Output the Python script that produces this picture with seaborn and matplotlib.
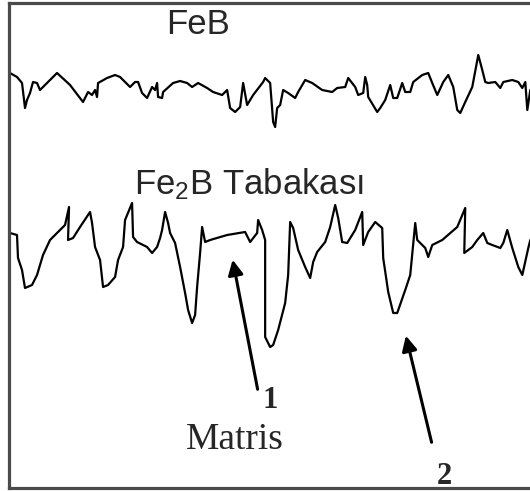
import matplotlib
matplotlib.use("Agg")
import matplotlib.pyplot as plt
import seaborn as sns
import pandas as pd

# Profile traces (horizontal position, vertical position in drawing units; y grows downward)
feb_x = [10, 17, 22, 25, 27, 30, 33, 37, 40, 45, 57, 70, 83, 88, 92, 95, 97, 98, 107, 115, 120,
         130, 135, 138, 142, 147, 152, 155, 157, 158, 162, 163, 173, 180, 187, 192, 198, 207, 213,
         222, 227, 230, 235, 240, 243, 247, 253, 263,
         265, 270, 273, 275, 277, 280, 283, 288, 295, 298, 305, 312, 322, 332, 337, 345, 348, 355,
         358, 363, 365, 367, 368, 377, 380, 385, 390, 393, 397, 402, 405, 410, 413, 422, 428, 432,
         437, 443, 448, 453, 457, 460, 465, 472, 478, 482, 485, 488, 495, 500, 503, 512, 518, 522,
         525, 527, 530]
feb_y = [73, 77, 83, 108, 100, 93, 82, 83, 90, 85, 73, 85, 102, 92, 95, 90, 97, 83, 78, 75, 77,
         87, 82, 82, 93, 98, 87, 90, 83, 97, 98, 92, 83, 81, 83, 87, 83, 88, 92,
         95, 90, 108, 112, 107, 83, 105, 95, 82,
         78, 83, 122, 127, 108, 105, 90, 93, 98, 92, 80, 83, 90, 92, 88, 87, 78, 87,
         95, 93, 77, 85, 97, 112, 108, 100, 85, 98, 98, 83, 92, 92, 82, 75, 73, 83,
         95, 82, 75, 87, 110, 113, 102, 87, 55, 70, 82, 83, 82, 88, 82, 80, 82, 88,
         82, 110, 90]

fe2b_x = [10, 17, 18, 22, 25, 32, 37, 43, 50, 58, 65, 69, 68, 73, 80, 90, 92, 95, 100, 103, 108,
          115, 118, 123, 125, 132, 133, 137, 147, 152, 157, 160, 162, 165, 168, 170, 175, 180, 185,
          188, 192, 195, 197, 200, 202, 205, 210, 227, 245, 250, 257, 258, 262,
          265, 265, 270, 273, 278, 285, 288, 290, 293, 298, 305, 310, 313, 317, 325, 330, 335, 338,
          342, 347, 355, 362, 363, 368, 375, 382, 383, 388, 393, 397, 405, 410, 415, 417, 425, 428,
          432, 442, 457, 465, 464, 472, 477, 483, 487, 492, 500, 503, 507, 512, 518, 522, 528, 530]
fe2b_y = [233, 235, 258, 270, 288, 285, 275, 255, 240, 232, 225, 207, 240, 238, 227, 212, 223, 247,
          260, 287, 285, 277, 260, 247, 220, 203, 237, 242, 247, 253, 247, 238, 230, 212, 223, 233,
          243, 267, 293, 310, 323, 315, 287, 253, 227, 242, 240, 235, 232, 242, 233, 220, 230,
          240, 337, 347, 345, 330, 303, 275, 222, 228, 250, 267, 278, 262, 252, 242, 227, 205, 218,
          242, 243, 230, 212, 245, 232, 222, 228, 258, 292, 313, 313, 290, 275, 223, 240, 248, 257,
          245, 240, 227, 208, 253, 247, 240, 233, 243, 245, 248, 243, 230, 248, 267, 275, 248, 240]

title_top = "FeB"
title_bottom = "Fe$_2$B Tabakas\u0131"
label_matrix = "Matris"
marker_labels = ["1", "2"]

W, H = 530, 491
fig = plt.figure(figsize=(W / 100, H / 100), dpi=100)
sns.set_style("white")
plt.rcParams["mathtext.fontset"] = "custom"
plt.rcParams["mathtext.rm"] = "Liberation Sans"
plt.rcParams["mathtext.it"] = "Liberation Sans"
plt.rcParams["mathtext.default"] = "regular"

ax = fig.add_axes([9 / W, 3 / H, 1 - 9 / W + 0.01, (488 - 3) / H])
ax.set_xlim(9, 535)
ax.set_ylim(488, 3)

df1 = pd.DataFrame({"x": feb_x, "y": feb_y})
df2 = pd.DataFrame({"x": fe2b_x, "y": fe2b_y})
sns.lineplot(data=df1, x="x", y="y", sort=False, estimator=None, color="black", lw=1.6, ax=ax)
sns.lineplot(data=df2, x="x", y="y", sort=False, estimator=None, color="black", lw=1.6, ax=ax)

ax.set_xlabel("")
ax.set_ylabel("")
ax.set_xticks([])
ax.set_yticks([])
for s in ["left", "top", "bottom"]:
    ax.spines[s].set_visible(True)
    ax.spines[s].set_color("#4a4a4a")
    ax.spines[s].set_linewidth(2.3)
ax.spines["right"].set_visible(False)

sans = ["Liberation Sans", "DejaVu Sans"]
serif = ["Liberation Serif", "DejaVu Serif"]
ax.text(198, 25, title_top, fontsize=25, family=sans, ha="center", va="center")
ax.text(249, 184, title_bottom, fontsize=25, family=sans, ha="center", va="center")
ax.text(235, 440, label_matrix, fontsize=27, family=serif, ha="center", va="center")
ax.text(270, 401, marker_labels[0], fontsize=22, family=serif, weight="bold", ha="center", va="center")
ax.text(444, 476, marker_labels[1], fontsize=22, family=serif, weight="bold", ha="center", va="center")

arrow = dict(arrowstyle="-|>,head_length=0.9,head_width=0.45", color="black", lw=2.2)
ax.annotate("", xy=(232, 257), xytext=(258, 392), arrowprops=arrow)
ax.annotate("", xy=(405, 333), xytext=(432, 445), arrowprops=arrow)

fig.savefig("out.png", dpi=100)
